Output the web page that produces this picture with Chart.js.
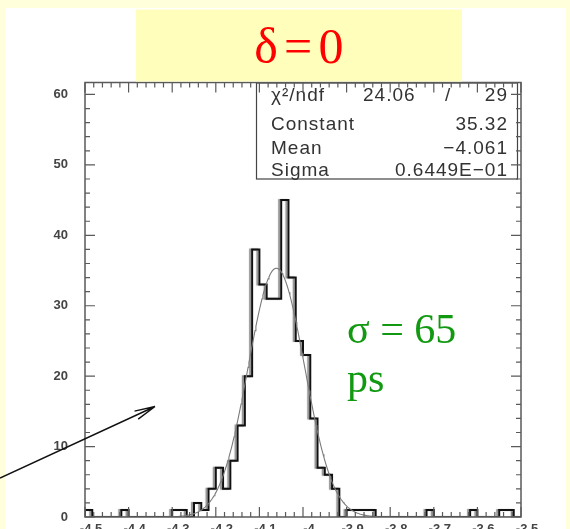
<!DOCTYPE html>
<html>
<head>
<meta charset="utf-8">
<script src="https://cdn.jsdelivr.net/npm/chart.js@4.4.1/dist/chart.umd.min.js"></script>
<style>
  html, body { margin: 0; padding: 0; background: #ffffdc; }
  #wrap { width: 570px; height: 529px; }
</style>
</head>
<body>
<div id="wrap"><canvas id="tdc" width="570" height="529"></canvas></div>
<script>
// time difference histogram, 60 bins between -4.5 and -3.5 ns
const xMin = -4.5;
const xMax = -3.5;
const binCounts = [
  1, 0, 0, 0, 0, 1, 0, 0, 0, 0,
  0, 0, 1, 1, 0, 2, 1, 4, 7, 4,
  8, 13, 20, 38, 33, 31, 31, 45, 34, 25,
  23, 14, 7, 6, 4, 0, 1, 1, 1, 1,
  0, 0, 0, 0, 0, 0, 0, 1, 0, 0,
  0, 0, 0, 1, 0, 0, 0, 1, 1, 0
];
const yMax = 61.7;

// gaussian fit result
const fitConstant = 35.32;
const fitMean = -4.061;
const fitSigma = 0.06449;

const xTickValues = [-4.5, -4.4, -4.3, -4.2, -4.1, -4.0, -3.9, -3.8, -3.7, -3.6, -3.5];
const xTickLabels = ["-4.5", "-4.4", "-4.3", "-4.2", "-4.1", "-4", "-3.9", "-3.8", "-3.7", "-3.6", "-3.5"];
const yTickValues = [0, 10, 20, 30, 40, 50, 60];
const yTickLabels = ["0", "10", "20", "30", "40", "50", "60"];

const statNames = ["χ²/ndf", "Constant", "Mean", "Sigma"];
const statValues = ["29", "35.32", "−4.061", "0.6449E−01"];
const chi2Text = "24.06";

const binWidth = (xMax - xMin) / binCounts.length;

// step outline of the histogram
const histPoints = [{ x: xMin, y: 0 }];
for (let i = 0; i < binCounts.length; i++) {
  histPoints.push({ x: xMin + i * binWidth, y: binCounts[i] });
}
histPoints.push({ x: xMax, y: binCounts[binCounts.length - 1] });
histPoints.push({ x: xMax, y: 0 });

// fitted gaussian
const fitPoints = [];
for (let x = xMin; x <= xMax + 1e-9; x += 0.002) {
  const u = (x - fitMean) / fitSigma;
  fitPoints.push({ x: x, y: fitConstant * Math.exp(-0.5 * u * u) });
}

const frameColor = "#5a5a5a";

// soft grey ghost behind the histogram outline
const ghost = {
  id: "ghost",
  beforeDatasetDraw(chart, args) {
    if (args.index !== 1) return;
    const ctx = chart.ctx;
    ctx.save();
    ctx.shadowColor = "rgba(0,0,0,0.45)";
    ctx.shadowOffsetX = -2;
    ctx.shadowOffsetY = 0;
    ctx.shadowBlur = 1;
  },
  afterDatasetDraw(chart, args) {
    if (args.index !== 1) return;
    chart.ctx.restore();
  }
};

const decor = {
  id: "decor",
  beforeDraw(chart) {
    const ctx = chart.ctx;
    ctx.save();
    ctx.fillStyle = "#ffffdc";
    ctx.fillRect(0, 0, chart.width, chart.height);
    ctx.fillStyle = "#ffffff";
    ctx.fillRect(5, 8, 561, 521);
    ctx.restore();
  },
  afterDatasetsDraw(chart) {
    const ctx = chart.ctx;
    const a = chart.chartArea;
    const xs = chart.scales.x;
    const ys = chart.scales.y;
    ctx.save();

    // stats box
    const bx = 256, by = a.top, bw = 261, bh = 96;
    ctx.fillStyle = "#ffffff";
    ctx.fillRect(bx, by, bw, bh);
    ctx.strokeStyle = "#444";
    ctx.lineWidth = 1.2;
    ctx.strokeRect(bx + 0.5, by + 0.5, bw, bh);

    ctx.fillStyle = "#333";
    ctx.font = '19px "Liberation Sans"';
    ctx.letterSpacing = "1px";
    ctx.textBaseline = "alphabetic";
    const rowBase = [101, 130, 154, 176];
    for (let i = 0; i < statNames.length; i++) {
      ctx.textAlign = "left";
      ctx.fillText(statNames[i], 271, rowBase[i]);
      ctx.textAlign = "right";
      ctx.fillText(statValues[i], 508, rowBase[i]);
    }
    ctx.textAlign = "left";
    ctx.fillText(chi2Text, 363, rowBase[0]);
    ctx.fillText("/", 445, rowBase[0]);
    ctx.letterSpacing = "0px";

    // frame
    ctx.strokeStyle = frameColor;
    ctx.lineWidth = 1.5;
    ctx.strokeRect(a.left, a.top, a.right - a.left, a.bottom - a.top);

    // ticks, pointing into the frame
    ctx.lineWidth = 1.2;
    ctx.beginPath();
    for (let k = 0; k <= 50; k++) {
      const v = xMin + k * 0.02;
      const px = xs.getPixelForValue(v);
      const len = k % 5 === 0 ? 10 : 5;
      ctx.moveTo(px, a.bottom);
      ctx.lineTo(px, a.bottom - len);
      ctx.moveTo(px, a.top);
      ctx.lineTo(px, a.top + len);
    }
    for (let v = 0; v <= 60; v += 2) {
      const py = ys.getPixelForValue(v);
      const len = v % 10 === 0 ? 10 : 5;
      ctx.moveTo(a.left, py);
      ctx.lineTo(a.left + len, py);
      ctx.moveTo(a.right, py);
      ctx.lineTo(a.right - len, py);
    }
    ctx.stroke();

    // axis labels
    ctx.fillStyle = "#444";
    ctx.font = 'bold 13px "Liberation Sans"';
    ctx.textAlign = "right";
    ctx.textBaseline = "middle";
    for (let i = 0; i < yTickValues.length; i++) {
      ctx.fillText(yTickLabels[i], 68, ys.getPixelForValue(yTickValues[i]));
    }
    ctx.textAlign = "center";
    ctx.textBaseline = "top";
    for (let i = 0; i < xTickValues.length; i++) {
      ctx.fillText(xTickLabels[i], xs.getPixelForValue(xTickValues[i]) + 6, a.bottom + 6);
    }

    // title panel
    ctx.fillStyle = "#ffffbb";
    ctx.fillRect(136, 9.5, 326, 72);
    ctx.fillStyle = "#ff0000";
    ctx.font = '50px "Liberation Serif"';
    ctx.textAlign = "center";
    ctx.textBaseline = "alphabetic";
    ctx.fillText("δ", 266, 63);
    ctx.fillText("=", 298, 63);
    ctx.fillText("0", 331, 63);

    // resolution note
    ctx.fillStyle = "#119911";
    ctx.font = '42px "Liberation Serif"';
    ctx.textAlign = "left";
    ctx.fillText("σ = 65", 347, 343);
    ctx.fillText("ps", 347, 392);

    // arrow
    ctx.strokeStyle = "#111";
    ctx.lineWidth = 1.4;
    const tx = 155, ty = 406.5, sx = 0, sy = 478;
    const ang = Math.atan2(sy - ty, sx - tx);
    ctx.beginPath();
    ctx.moveTo(sx, sy);
    ctx.lineTo(tx, ty);
    for (const d of [-0.21, 0.21]) {
      ctx.moveTo(tx, ty);
      ctx.lineTo(tx + 21 * Math.cos(ang + d), ty + 21 * Math.sin(ang + d));
    }
    ctx.stroke();

    ctx.restore();
  }
};

new Chart(document.getElementById("tdc"), {
  type: "line",
  data: {
    datasets: [
      {
        label: "fit",
        data: fitPoints,
        borderColor: "#7a7a7a",
        borderWidth: 1.1,
        pointRadius: 0,
        tension: 0
      },
      {
        label: "hist",
        data: histPoints,
        stepped: true,
        borderColor: "#111",
        borderWidth: 2,
        pointRadius: 0,
        tension: 0
      }
    ]
  },
  options: {
    responsive: false,
    animation: false,
    devicePixelRatio: 1,
    layout: { padding: { left: 85, right: 49, top: 82.5, bottom: 12 } },
    plugins: { legend: { display: false }, tooltip: { enabled: false } },
    scales: {
      x: { type: "linear", min: xMin, max: xMax, display: false },
      y: { min: 0, max: yMax, display: false }
    }
  },
  plugins: [ghost, decor]
});
</script>
</body>
</html>
